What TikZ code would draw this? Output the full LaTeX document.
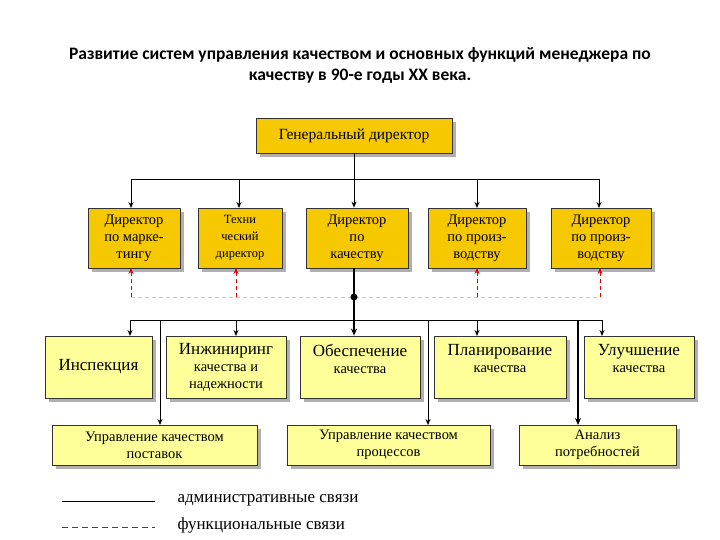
\documentclass[tikz,border=0pt]{standalone}
\usepackage{fontspec}
\setmainfont{Liberation Serif}
\newfontfamily\titlefont{Carlito}
\usetikzlibrary{arrows.meta}
\definecolor{gold}{HTML}{F5C800}
\definecolor{lyel}{HTML}{FFFF99}
\definecolor{shad}{HTML}{B0B0B0}
\definecolor{fred}{HTML}{E00000}
\tikzset{
 box/.style={draw=black!80,line width=0.8pt,align=center,inner sep=1pt,font=\fontsize{14.5}{17}\selectfont},
 bgold/.style={box,fill=gold},
 byel/.style={box,fill=lyel},
 conn/.style={line width=0.9pt,-{Stealth[length=6pt,width=5pt]}},
 thick conn/.style={line width=1.6pt,-{Stealth[length=7pt,width=6pt]}},
 func/.style={fred,dash pattern=on 4pt off 3pt,line width=0.9pt,-{Stealth[length=6pt,width=5pt]}},
}
\newcommand{\bx}[7]{% name, style, x1,y1,x2,y2,text
 \fill[shad] (#3+4,#4+4) rectangle (#5+4,#6+4);
 \node[#2,minimum width=#5-#3,minimum height=#6-#4] (#1) at ({(#3+#5)/2},{(#4+#6)/2}) {#7};}
\newcommand{\bigf}{\fontsize{17}{20}\selectfont}
\newcommand{\smf}{\fontsize{14.5}{18}\selectfont}
\begin{document}
\begin{tikzpicture}[x=1pt,y=-1pt]
\useasboundingbox[fill=white] (0,0) rectangle (720,540);
\node[font=\titlefont\bfseries\fontsize{17.5}{21}\selectfont,align=center] (title) at (360,65)
 {Развитие систем управления качеством и основных функций менеджера по\\качеству в 90-е годы XX века.};
\bx{gd}{bgold}{256}{118}{452}{153}{\fontsize{15.5}{17}\selectfont Генеральный директор}
\bx{d1}{bgold}{88}{208}{180}{268}{Директор\\по марке-\\тингу}
\bx{d2}{bgold}{198}{208}{282}{268}{\fontsize{12.5}{15}\selectfont Техни\\\fontsize{12.5}{15}\selectfont ческий\\\fontsize{12.5}{15}\selectfont директор}
\bx{d3}{bgold}{306}{208}{408}{268}{Директор\\по\\качеству}
\bx{d4}{bgold}{428}{208}{526}{268}{Директор\\по произ-\\водству}
\bx{d5}{bgold}{551}{208}{651}{268}{Директор\\по произ-\\водству}
\bx{f1}{byel}{45}{336}{152}{398}{\bigf Инспекция}
\bx{f2}{byel}{166}{336}{286}{398}{\bigf Инжиниринг\\\smf качества и\\\smf надежности}
\bx{f3}{byel}{300}{336}{420}{398}{\bigf Обеспечение\\\smf качества\\\mbox{}}
\bx{f4}{byel}{434}{336}{566}{398}{\bigf Планирование\\\smf качества\\\mbox{}}
\bx{f5}{byel}{584}{336}{694}{398}{\bigf Улучшение\\\smf качества\\\mbox{}}
\bx{g1}{byel}{52}{425}{257}{465}{Управление качеством\\поставок}
\bx{g2}{byel}{287}{425}{490}{465}{Управление качеством\\процессов}
\bx{g3}{byel}{519}{425}{676}{465}{Анализ\\потребностей}
% top bus
\coordinate (b0) at (gd.south |- 0,179);
\draw[line width=0.9pt] (gd.south) -- (b0);
\draw[line width=0.9pt] (131,179) -- (599,179);
\draw[conn] (131,179) -- (131,208);
\draw[conn] (239,179) -- (239,208);
\draw[conn] (b0) -- (b0 |- d3.north);
\draw[conn] (477,179) -- (477,208);
\draw[conn] (599,179) -- (599,208);
% functional
\draw[gray!45,dash pattern=on 4pt off 3pt,line width=0.8pt] (131,297) -- (600,297);
\foreach \x in {131,236,477,600} \draw[func] (\x,297) -- (\x,268);
\coordinate (dot) at (b0 |- 0,297);
\fill (dot) circle (3.5pt);
\draw[line width=1.6pt] (dot |- d3.south) -- (dot);
\draw[thick conn] (dot) -- (dot |- f3.north);
% lower bus
\draw[line width=0.9pt] (130,320) -- (602,320);
\draw[conn] (130,320) -- (130,336);
\draw[conn] (236,320) -- (236,336);
\draw[conn] (477,320) -- (477,336);
\draw[conn] (602,320) -- (602,336);
\draw[conn] (160,320) -- (160,425);
\draw[conn] (428,320) -- (428,425);
\draw[thick conn] (578,320) -- (578,425);
% legend
\coordinate (l1) at (62,501); \coordinate (l2) at (155,501);
\coordinate (l3) at (62,527); \coordinate (l4) at (155,527);
\draw[line width=0.8pt] (l1) -- (l2);
\draw[fred,dash pattern=on 6pt off 4pt,line width=0.8pt] (l3) -- (l4);
\node[anchor=west,font=\fontsize{17}{19}\selectfont] (t1) at (174,500) {административные связи};
\node[anchor=west,font=\fontsize{17}{19}\selectfont] (t2) at (174,525) {функциональные связи};
\end{tikzpicture}
\end{document}
